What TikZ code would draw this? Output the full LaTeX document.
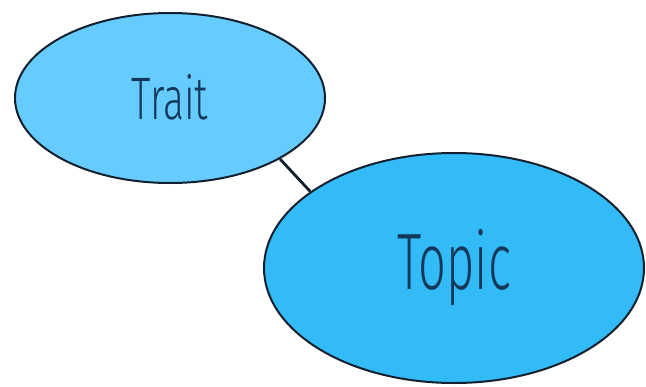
\documentclass[tikz,border=0pt]{standalone}
\usepackage{fontspec}
\usepackage{graphicx}
\setmainfont{Fira Sans Light}
\usetikzlibrary{shapes.geometric}
\definecolor{traitfill}{HTML}{66CCFF}
\definecolor{topicfill}{HTML}{33BBF8}
\definecolor{inktext}{HTML}{15385A}
\definecolor{edge}{HTML}{10202E}
\tikzset{
  bubble/.style={ellipse, draw=edge, line width=2pt, inner sep=0pt, text=inktext},
  link/.style={draw=edge, line width=2.8pt}
}
\begin{document}
\begin{tikzpicture}[x=1pt,y=-1pt]
\useasboundingbox (0,0) rectangle (646,386);
\node[bubble, fill=traitfill, minimum width=310pt, minimum height=170pt] (trait) at (170,98)
  {\raisebox{3pt}{\scalebox{0.65}[1]{\fontsize{60}{60}\selectfont Trait}}};
\node[bubble, fill=topicfill, minimum width=380pt, minimum height=230pt] (topic) at (454,268)
  {\raisebox{0pt}{\scalebox{0.61}[1]{\fontsize{80}{80}\selectfont Topic}}};
\draw[link] (trait.-29) -- (topic.152);
\end{tikzpicture}
\end{document}
